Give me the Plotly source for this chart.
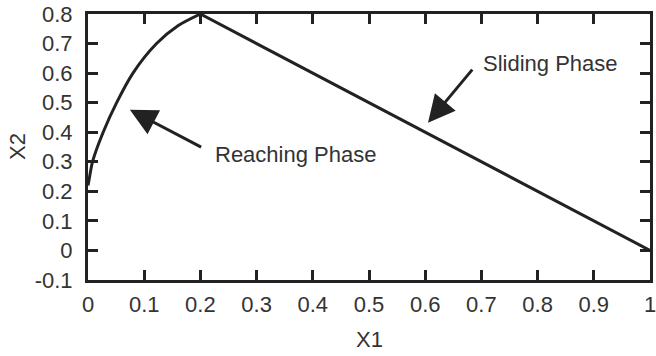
import plotly.graph_objects as go

# Reaching phase curve
reach_x = [0.0, 0.002, 0.008, 0.027, 0.051, 0.080, 0.122, 0.160, 0.200]
reach_y = [0.22, 0.24, 0.30, 0.40, 0.50, 0.60, 0.70, 0.76, 0.80]
# Sliding phase line
slide_x = [0.2, 1.0]
slide_y = [0.8, 0.0]

x_ticks = [0, 0.1, 0.2, 0.3, 0.4, 0.5, 0.6, 0.7, 0.8, 0.9, 1]
x_labels = ["0", "0.1", "0.2", "0.3", "0.4", "0.5", "0.6", "0.7", "0.8", "0.9", "1"]
y_ticks = [-0.1, 0, 0.1, 0.2, 0.3, 0.4, 0.5, 0.6, 0.7, 0.8]
y_labels = ["-0.1", "0", "0.1", "0.2", "0.3", "0.4", "0.5", "0.6", "0.7", "0.8"]

LINE = "#222222"
TEXT = "#333333"
FONT = "Liberation Sans, Arial, sans-serif"

fig = go.Figure()
fig.add_trace(go.Scatter(x=reach_x, y=reach_y, mode="lines",
                         line=dict(color=LINE, width=3, shape="spline", smoothing=0.8),
                         showlegend=False, hoverinfo="skip"))
fig.add_trace(go.Scatter(x=slide_x, y=slide_y, mode="lines",
                         line=dict(color=LINE, width=3),
                         showlegend=False, hoverinfo="skip"))

axis_common = dict(showgrid=False, zeroline=False, showline=True, linecolor=LINE,
                   linewidth=3, mirror="ticks", ticks="inside", ticklen=10,
                   tickwidth=3, tickcolor=LINE, automargin=False,
                   ticklabeloverflow="allow",
                   tickfont=dict(family=FONT, size=22, color=TEXT))

fig.update_xaxes(range=[0, 1], tickvals=x_ticks, ticktext=x_labels,
                 ticklabelstandoff=3, **axis_common)
fig.update_yaxes(range=[-0.1, 0.8], tickvals=y_ticks, ticktext=y_labels,
                 ticklabelstandoff=8, **axis_common)

annots = [
    dict(x=0.0745, y=0.476, ax=0.204, ay=0.347, text="", showarrow=True,
         xref="x", yref="y", axref="x", ayref="y", arrowhead=2, arrowsize=1.8,
         arrowwidth=3, arrowcolor=LINE),
    dict(x=0.605, y=0.432, ax=0.686, ay=0.617, text="", showarrow=True,
         xref="x", yref="y", axref="x", ayref="y", arrowhead=2, arrowsize=1.8,
         arrowwidth=3, arrowcolor=LINE),
    dict(x=0.222, y=0.323, text="Reaching Phase", showarrow=False, xref="x", yref="y",
         xanchor="left", yanchor="middle",
         font=dict(family=FONT, size=22, color=TEXT)),
    dict(x=0.699, y=0.634, text="Sliding Phase", showarrow=False, xref="x", yref="y",
         xanchor="left", yanchor="middle",
         font=dict(family=FONT, size=22, color=TEXT)),
    # axis titles
    dict(x=0.5, y=0, xref="paper", yref="paper", yshift=-59, text="X1",
         showarrow=False, xanchor="center", yanchor="middle",
         font=dict(family=FONT, size=22, color=TEXT)),
    dict(x=0, y=0.5, xref="paper", yref="paper", xshift=-71, text="X2",
         showarrow=False, xanchor="center", yanchor="middle", textangle=-90,
         font=dict(family=FONT, size=22, color=TEXT)),
]
fig.update_layout(width=656, height=356, margin=dict(l=88, r=6, t=14, b=76),
                  plot_bgcolor="white", paper_bgcolor="white", annotations=annots,
                  hovermode=False)

fig.write_html("out.html", config={"displayModeBar": False, "staticPlot": True},
               post_script="document.body.style.margin='0';document.body.style.overflow='hidden';")
